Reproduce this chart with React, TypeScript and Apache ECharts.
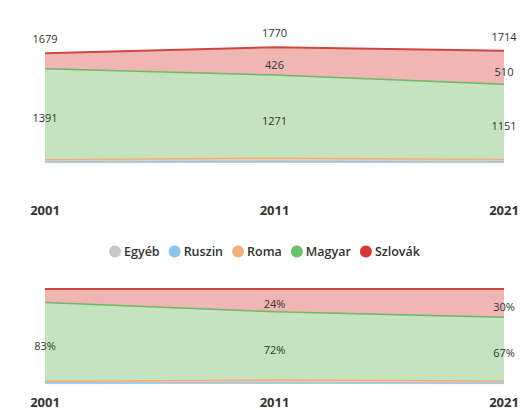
import React, { useEffect, useRef } from "react";
import * as echarts from "echarts";

const years = ["2001", "2011", "2021"];
const egyeb = [5, 8, 5];
const ruszin = [15, 20, 13];
const roma = [30, 45, 35];
const magyar = [1391, 1271, 1151];
const szlovak = [238, 426, 510];
const legendNames = ["Egyéb", "Ruszin", "Roma", "Magyar", "Szlovák"];

const FONT = "'Open Sans', 'Noto Sans', sans-serif";

export default function App() {
  const ref = useRef<HTMLDivElement>(null);
  useEffect(() => {
    const chart = echarts.init(ref.current!, null, { renderer: "svg" });
    const totals = years.map((_, i) => egyeb[i] + ruszin[i] + roma[i] + magyar[i] + szlovak[i]);
    const pct = (arr: number[]) => arr.map((v, i) => (v / totals[i]) * 100);

    const topMax = 1880;
    const topH = 123;
    const upp = topMax / topH;
    const botH = 95;
    const uppB = 100 / botH;

    const defs = [
      { name: "Egyéb", data: egyeb, line: "#c8c8c8", area: "#dcdcdc", dot: "#c8c8c8", w: 1 },
      { name: "Ruszin", data: ruszin, line: "#9cc8ec", area: "#c8e0f4", dot: "#8ec5ea", w: 1.5 },
      { name: "Roma", data: roma, line: "#efb080", area: "#f5cfae", dot: "#f5b07f", w: 1.5 },
      { name: "Magyar", data: magyar, line: "#6cb866", area: "#c6e3c0", dot: "#6cc06a", w: 1.5 },
      { name: "Szlovák", data: szlovak, line: "#d0463f", area: "#f0b6b4", dot: "#d9383a", w: 2 },
    ];

    const labelBase = { fontFamily: FONT, fontSize: 11, color: "#333" };

    const series: any[] = [];
    defs.forEach((d) => {
      const mk = (vals: number[], gi: number, isPct: boolean) => {
        const u = isPct ? uppB : upp;
        const data = vals.map((v, i) => {
          let show = false;
          if (d.name === "Magyar") show = true;
          if (d.name === "Szlovák" && i > 0) show = true;
          return {
            value: v,
            label: {
              show,
              position: "bottom",
              distance: v / 2 / u - 2,
              formatter: isPct ? `${Math.round(v)}%` : `${d.data[i]}`,
              ...labelBase,
            },
          };
        });
        return {
          name: d.name,
          type: "line",
          stack: gi === 0 ? "a" : "b",
          xAxisIndex: gi,
          yAxisIndex: gi,
          symbol: "circle",
          symbolSize: 0,
          showSymbol: true,
          itemStyle: { color: d.dot },
          lineStyle: { color: d.line, width: d.w },
          areaStyle: { color: d.area, opacity: 1 },
          data,
          z: 2,
        };
      };
      series.push(mk(d.data, 0, false));
      series.push(mk(pct(d.data), 1, true));
    });

    series.push({
      name: "total",
      type: "line",
      xAxisIndex: 0,
      yAxisIndex: 0,
      symbol: "circle",
      symbolSize: 0,
      showSymbol: true,
      lineStyle: { opacity: 0 },
      data: totals,
      label: { show: true, position: "top", distance: 9, ...labelBase },
      z: 3,
    });

    const xAxisBase = {
      type: "category",
      data: years,
      boundaryGap: false,
      axisLine: { show: false },
      axisTick: { show: false },
      splitLine: { show: false },
    };

    chart.setOption({
      animation: false,
      backgroundColor: "#ffffff",
      textStyle: { fontFamily: FONT },
      grid: [
        { left: 45, right: 25, top: 40, height: topH },
        { left: 45, right: 25, top: 289, height: botH },
      ],
      xAxis: [
        {
          ...xAxisBase,
          gridIndex: 0,
          axisLabel: { margin: 40, color: "#333", fontWeight: "bold", fontSize: 13, fontFamily: FONT },
        },
        {
          ...xAxisBase,
          gridIndex: 1,
          axisLabel: { margin: 11, color: "#333", fontWeight: "bold", fontSize: 13, fontFamily: FONT },
        },
      ],
      yAxis: [
        { type: "value", gridIndex: 0, min: 0, max: topMax, show: false, splitLine: { show: false } },
        { type: "value", gridIndex: 1, min: 0, max: 100, show: false, splitLine: { show: false } },
      ],
      legend: {
        data: legendNames,
        top: 240,
        left: "center",
        icon: "circle",
        itemWidth: 12,
        itemHeight: 12,
        itemGap: 9,
        textStyle: { fontFamily: FONT, fontSize: 12.5, fontWeight: 600, color: "#333", padding: [0, 0, 0, -2] },
      },
      series,
    });
    return () => chart.dispose();
  }, []);
  return (
    <div
      ref={ref}
      style={{ position: "fixed", left: 0, top: 0, width: 529, height: 410 }}
    />
  );
}
